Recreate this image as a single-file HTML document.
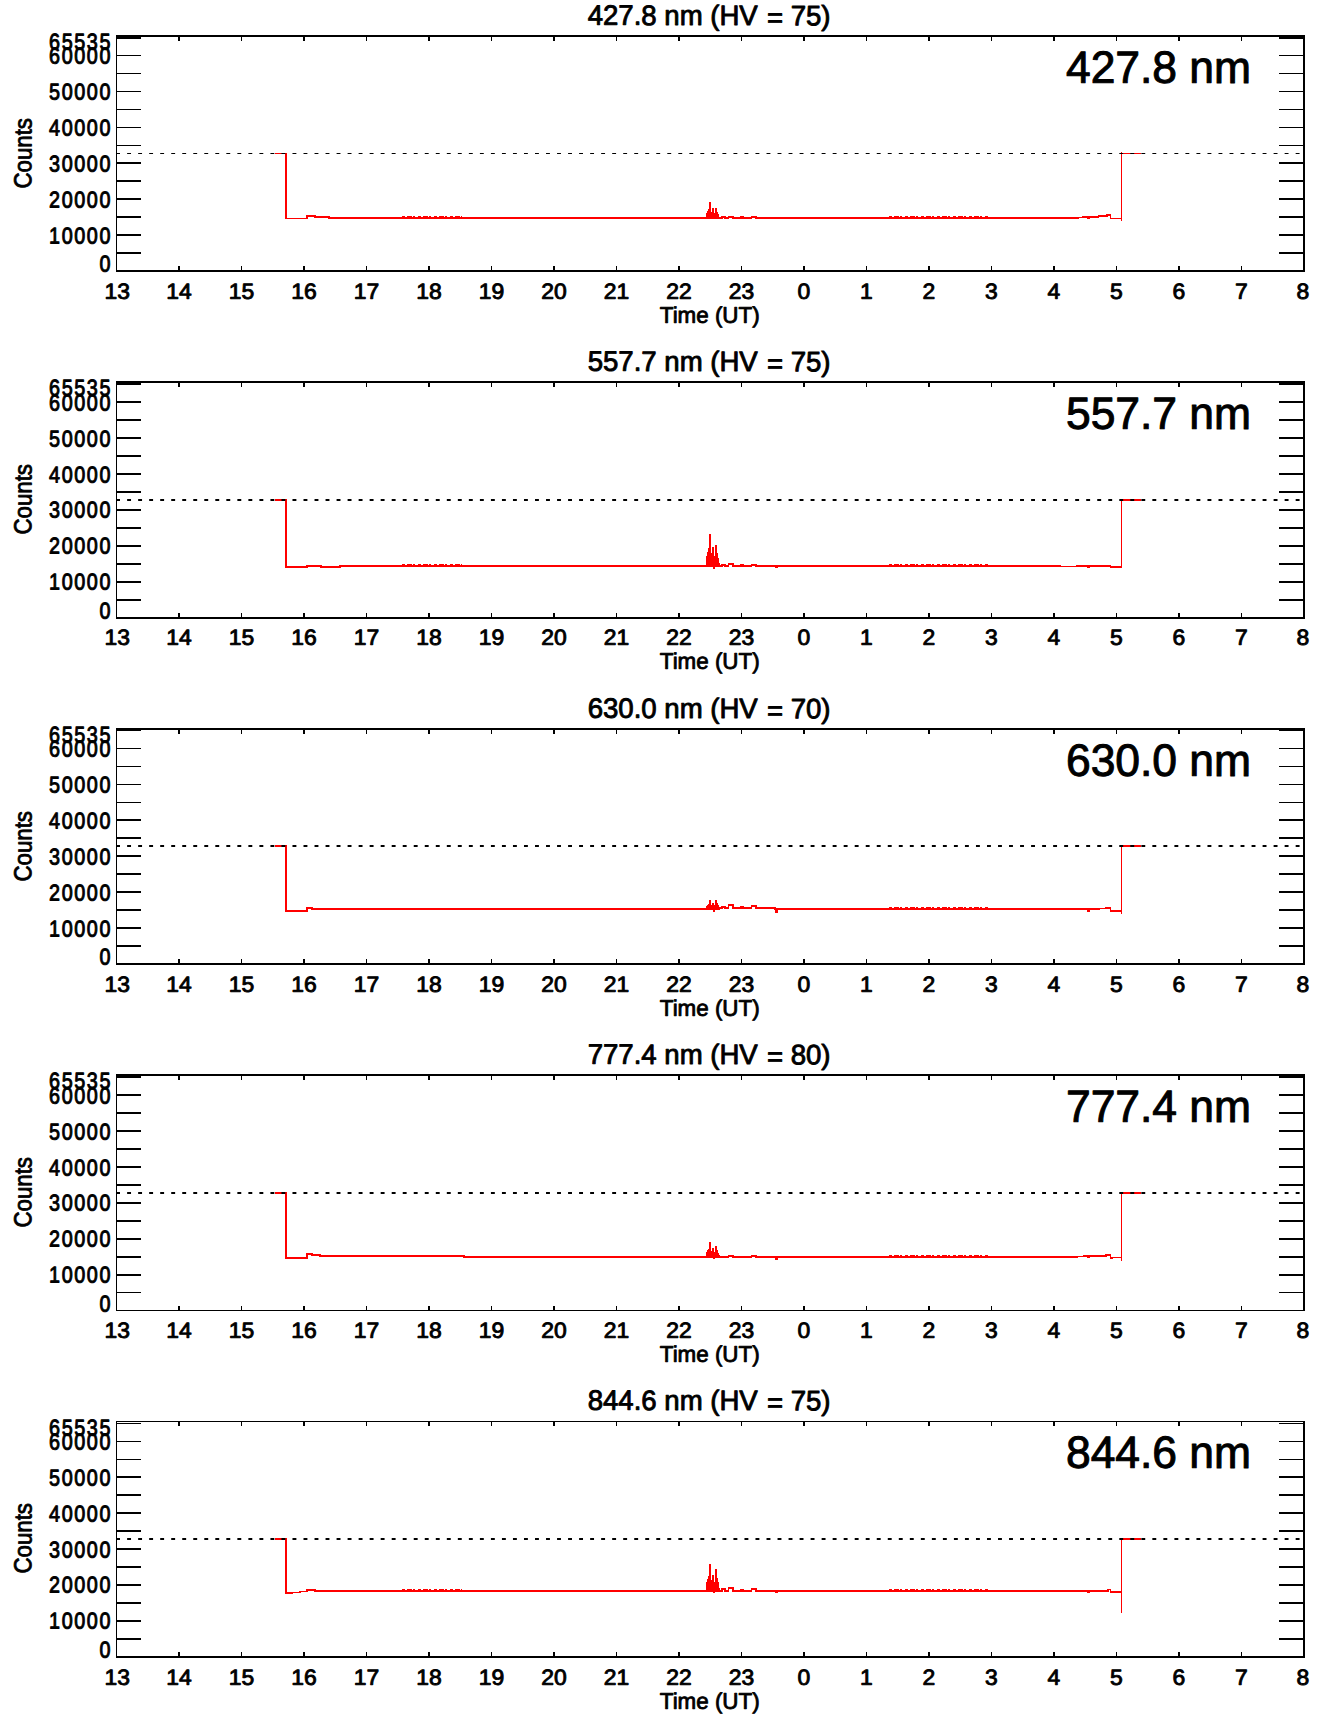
<!DOCTYPE html>
<html lang="en">
<head>
<meta charset="utf-8">
<title>Photometer counts</title>
<style>
html,body{margin:0;padding:0;background:#fff;}
body{width:1336px;height:1731px;overflow:hidden;}
svg{display:block;}
svg text{font-family:"Liberation Sans", Arial, Helvetica, sans-serif;fill:#000;stroke:#000;stroke-linejoin:round;}
</style>
</head>
<body>
<svg width="1336" height="1731" viewBox="0 0 1336 1731">
<rect width="1336" height="1731" fill="#fff"/>
<g>
<g shape-rendering="crispEdges">
<polyline points="275.2,153.5 286,153.5 286,218.5 306.8,218.5 306.8,216 315,216 315,217 329,217 329,218 719.5,218 719.5,218 722,218 722,217 725,217 725,218 728.5,218 728.5,217 733,217 733,218 741,218 741,217 743,217 743,218 751.5,218 751.5,217 756,217 756,218 775,218 775,218 1078,218 1078,217.5 1083,217.5 1083,217 1088,217 1088,218 1089.5,218 1089.5,217 1098.5,217 1098.5,216 1107,216 1107,215 1110.5,215 1110.5,218.5 1121.5,218.5 1121.5,220.8 1121.5,152 1121.5,153.5 1141.3,153.5" fill="none" stroke="#ff0000" stroke-width="1.5" stroke-linejoin="miter"/>
<polygon points="706.0,218.8 706.0,212.7 707.0,212.7 707.0,210.8 708.0,210.8 708.0,209.0 709.0,209.0 709.0,202.0 711.0,202.0 711.0,211.6 712.0,211.6 712.0,208.3 714.0,208.3 714.0,212.7 715.0,212.7 715.0,208.3 717.0,208.3 717.0,212.0 718.0,212.0 718.0,214.1 719.0,214.1 719.0,216.5 720.0,216.5 720.0,218.8" fill="#ff0000"/>
<rect x="713" y="218" width="2" height="1" fill="#ff0000"/>
<line x1="402" y1="216.5" x2="462" y2="216.5" stroke="#ff0000" stroke-width="1" stroke-dasharray="3 2 5 1 2 3"/>
<line x1="889" y1="216.5" x2="989" y2="216.5" stroke="#ff0000" stroke-width="1" stroke-dasharray="3 2 5 1 2 3"/>
</g>
<line x1="116.1" y1="153.5" x2="1304" y2="153.5" stroke="#000" stroke-width="1" stroke-dasharray="3.9 7.124"/>
<rect x="116" y="35" width="1189" height="2" fill="#000"/>
<rect x="116" y="270" width="1189" height="2" fill="#000"/>
<rect x="116" y="35" width="1" height="237" fill="#000"/>
<rect x="1303" y="35" width="2" height="237" fill="#000"/>
<rect x="117" y="55" width="24" height="1" fill="#000"/>
<rect x="1279" y="55" width="25" height="1" fill="#000"/>
<rect x="117" y="73" width="24" height="1" fill="#000"/>
<rect x="1279" y="73" width="25" height="1" fill="#000"/>
<rect x="117" y="91" width="24" height="1" fill="#000"/>
<rect x="1279" y="91" width="25" height="1" fill="#000"/>
<rect x="117" y="109" width="24" height="1" fill="#000"/>
<rect x="1279" y="109" width="25" height="1" fill="#000"/>
<rect x="117" y="127" width="24" height="1" fill="#000"/>
<rect x="1279" y="127" width="25" height="1" fill="#000"/>
<rect x="117" y="145" width="24" height="1" fill="#000"/>
<rect x="1279" y="145" width="25" height="1" fill="#000"/>
<rect x="117" y="162" width="24" height="2" fill="#000"/>
<rect x="1279" y="162" width="25" height="2" fill="#000"/>
<rect x="117" y="180" width="24" height="2" fill="#000"/>
<rect x="1279" y="180" width="25" height="2" fill="#000"/>
<rect x="117" y="198" width="24" height="2" fill="#000"/>
<rect x="1279" y="198" width="25" height="2" fill="#000"/>
<rect x="117" y="216" width="24" height="2" fill="#000"/>
<rect x="1279" y="216" width="25" height="2" fill="#000"/>
<rect x="117" y="234" width="24" height="2" fill="#000"/>
<rect x="1279" y="234" width="25" height="2" fill="#000"/>
<rect x="117" y="252" width="24" height="2" fill="#000"/>
<rect x="1279" y="252" width="25" height="2" fill="#000"/>
<rect x="117" y="35" width="24" height="4" fill="#000"/>
<rect x="1279" y="35" width="25" height="4" fill="#000"/>
<rect x="178" y="35" width="2" height="6" fill="#000"/>
<rect x="178" y="266" width="2" height="4" fill="#000"/>
<rect x="241" y="35" width="1" height="6" fill="#000"/>
<rect x="241" y="266" width="1" height="4" fill="#000"/>
<rect x="303" y="35" width="2" height="6" fill="#000"/>
<rect x="303" y="266" width="2" height="4" fill="#000"/>
<rect x="366" y="35" width="1" height="6" fill="#000"/>
<rect x="366" y="266" width="1" height="4" fill="#000"/>
<rect x="428" y="35" width="2" height="6" fill="#000"/>
<rect x="428" y="266" width="2" height="4" fill="#000"/>
<rect x="491" y="35" width="1" height="6" fill="#000"/>
<rect x="491" y="266" width="1" height="4" fill="#000"/>
<rect x="553" y="35" width="2" height="6" fill="#000"/>
<rect x="553" y="266" width="2" height="4" fill="#000"/>
<rect x="616" y="35" width="1" height="6" fill="#000"/>
<rect x="616" y="266" width="1" height="4" fill="#000"/>
<rect x="678" y="35" width="2" height="6" fill="#000"/>
<rect x="678" y="266" width="2" height="4" fill="#000"/>
<rect x="741" y="35" width="1" height="6" fill="#000"/>
<rect x="741" y="266" width="1" height="4" fill="#000"/>
<rect x="803" y="35" width="2" height="6" fill="#000"/>
<rect x="803" y="266" width="2" height="4" fill="#000"/>
<rect x="866" y="35" width="1" height="6" fill="#000"/>
<rect x="866" y="266" width="1" height="4" fill="#000"/>
<rect x="928" y="35" width="2" height="6" fill="#000"/>
<rect x="928" y="266" width="2" height="4" fill="#000"/>
<rect x="991" y="35" width="1" height="6" fill="#000"/>
<rect x="991" y="266" width="1" height="4" fill="#000"/>
<rect x="1053" y="35" width="2" height="6" fill="#000"/>
<rect x="1053" y="266" width="2" height="4" fill="#000"/>
<rect x="1116" y="35" width="1" height="6" fill="#000"/>
<rect x="1116" y="266" width="1" height="4" fill="#000"/>
<rect x="1178" y="35" width="2" height="6" fill="#000"/>
<rect x="1178" y="266" width="2" height="4" fill="#000"/>
<rect x="1241" y="35" width="1" height="6" fill="#000"/>
<rect x="1241" y="266" width="1" height="4" fill="#000"/>
<text transform="translate(112.00 49.50) rotate(0.1) scale(0.8620 1.0000)" font-size="22.9" text-anchor="end" stroke-width="0.95" letter-spacing="1.87">65535</text>
<text transform="translate(112.00 63.50) rotate(0.1) scale(0.8620 1.0000)" font-size="22.9" text-anchor="end" stroke-width="0.95" letter-spacing="1.87">60000</text>
<text transform="translate(112.00 99.50) rotate(0.1) scale(0.8620 1.0000)" font-size="22.9" text-anchor="end" stroke-width="0.95" letter-spacing="1.87">50000</text>
<text transform="translate(112.00 135.50) rotate(0.1) scale(0.8620 1.0000)" font-size="22.9" text-anchor="end" stroke-width="0.95" letter-spacing="1.87">40000</text>
<text transform="translate(112.00 171.50) rotate(0.1) scale(0.8620 1.0000)" font-size="22.9" text-anchor="end" stroke-width="0.95" letter-spacing="1.87">30000</text>
<text transform="translate(112.00 207.50) rotate(0.1) scale(0.8620 1.0000)" font-size="22.9" text-anchor="end" stroke-width="0.95" letter-spacing="1.87">20000</text>
<text transform="translate(112.00 243.50) rotate(0.1) scale(0.8620 1.0000)" font-size="22.9" text-anchor="end" stroke-width="0.95" letter-spacing="1.87">10000</text>
<text transform="translate(112.00 271.50) rotate(0.1) scale(0.8620 1.0000)" font-size="22.9" text-anchor="end" stroke-width="0.95" letter-spacing="1.87">0</text>
<text transform="translate(117.20 298.85) rotate(0.1) scale(1.0450 1.0000)" font-size="21.9" text-anchor="middle" stroke-width="0.9">13</text>
<text transform="translate(178.90 298.85) rotate(0.1) scale(1.0450 1.0000)" font-size="21.9" text-anchor="middle" stroke-width="0.9">14</text>
<text transform="translate(241.40 298.85) rotate(0.1) scale(1.0450 1.0000)" font-size="21.9" text-anchor="middle" stroke-width="0.9">15</text>
<text transform="translate(303.90 298.85) rotate(0.1) scale(1.0450 1.0000)" font-size="21.9" text-anchor="middle" stroke-width="0.9">16</text>
<text transform="translate(366.40 298.85) rotate(0.1) scale(1.0450 1.0000)" font-size="21.9" text-anchor="middle" stroke-width="0.9">17</text>
<text transform="translate(428.90 298.85) rotate(0.1) scale(1.0450 1.0000)" font-size="21.9" text-anchor="middle" stroke-width="0.9">18</text>
<text transform="translate(491.40 298.85) rotate(0.1) scale(1.0450 1.0000)" font-size="21.9" text-anchor="middle" stroke-width="0.9">19</text>
<text transform="translate(553.90 298.85) rotate(0.1) scale(1.0450 1.0000)" font-size="21.9" text-anchor="middle" stroke-width="0.9">20</text>
<text transform="translate(616.40 298.85) rotate(0.1) scale(1.0450 1.0000)" font-size="21.9" text-anchor="middle" stroke-width="0.9">21</text>
<text transform="translate(678.90 298.85) rotate(0.1) scale(1.0450 1.0000)" font-size="21.9" text-anchor="middle" stroke-width="0.9">22</text>
<text transform="translate(741.40 298.85) rotate(0.1) scale(1.0450 1.0000)" font-size="21.9" text-anchor="middle" stroke-width="0.9">23</text>
<text transform="translate(803.90 298.85) rotate(0.1) scale(1.0450 1.0000)" font-size="21.9" text-anchor="middle" stroke-width="0.9">0</text>
<text transform="translate(866.40 298.85) rotate(0.1) scale(1.0450 1.0000)" font-size="21.9" text-anchor="middle" stroke-width="0.9">1</text>
<text transform="translate(928.90 298.85) rotate(0.1) scale(1.0450 1.0000)" font-size="21.9" text-anchor="middle" stroke-width="0.9">2</text>
<text transform="translate(991.40 298.85) rotate(0.1) scale(1.0450 1.0000)" font-size="21.9" text-anchor="middle" stroke-width="0.9">3</text>
<text transform="translate(1053.90 298.85) rotate(0.1) scale(1.0450 1.0000)" font-size="21.9" text-anchor="middle" stroke-width="0.9">4</text>
<text transform="translate(1116.40 298.85) rotate(0.1) scale(1.0450 1.0000)" font-size="21.9" text-anchor="middle" stroke-width="0.9">5</text>
<text transform="translate(1178.90 298.85) rotate(0.1) scale(1.0450 1.0000)" font-size="21.9" text-anchor="middle" stroke-width="0.9">6</text>
<text transform="translate(1241.40 298.85) rotate(0.1) scale(1.0450 1.0000)" font-size="21.9" text-anchor="middle" stroke-width="0.9">7</text>
<text transform="translate(1302.80 298.85) rotate(0.1) scale(1.0450 1.0000)" font-size="21.9" text-anchor="middle" stroke-width="0.9">8</text>
<text transform="translate(709.10 25.00) rotate(0.1) scale(0.9850 1.0000)" font-size="28.0" text-anchor="middle" stroke-width="0.9">427.8 nm (HV <tspan dx="1.5" dy="2.2">=</tspan><tspan dy="-2.2"> </tspan>75)</text>
<text transform="translate(709.70 322.75) rotate(0.1) scale(0.9900 1.0000)" font-size="22.6" text-anchor="middle" stroke-width="0.85">Time (UT)</text>
<text transform="translate(31.40 153.30) rotate(-89.9) scale(0.9050 1.0000)" font-size="24.6" text-anchor="middle" stroke-width="0.85">Counts</text>
<text transform="translate(1158.50 82.80) rotate(0.1) scale(0.9860 1.0000)" font-size="45.0" text-anchor="middle" stroke-width="1.0">427.8 nm</text>
</g>
<g>
<g shape-rendering="crispEdges">
<polyline points="275.2,500 286,500 286,567 306.8,567 306.8,566 321,566 321,567 340,567 340,566 719.5,566 719.5,566 722,566 722,565 725,565 725,566 728.5,566 728.5,564 733,564 733,566 741,566 741,565 743,565 743,566 751.5,566 751.5,565 756,565 756,566 775,566 775,566 775.5,566 775.5,567.5 777,567.5 777,566 1060,566 1060,566.5 1077,566.5 1077,566 1088,566 1088,567.5 1089.5,567.5 1089.5,566 1110.5,566 1110.5,567 1121.5,567 1121.5,567.7 1121.5,498.5 1121.5,500 1141.3,500" fill="none" stroke="#ff0000" stroke-width="1.5" stroke-linejoin="miter"/>
<polygon points="706.0,566.8 706.0,555.5 707.0,555.5 707.0,551.6 708.0,551.6 708.0,548.1 709.0,548.1 709.0,534.1 711.0,534.1 711.0,553.2 712.0,553.2 712.0,547.3 714.0,547.3 714.0,555.7 715.0,555.7 715.0,545.3 717.0,545.3 717.0,553.2 718.0,553.2 718.0,557.7 719.0,557.7 719.0,562.9 720.0,562.9 720.0,566.8" fill="#ff0000"/>
<rect x="713" y="566" width="2" height="2.5" fill="#ff0000"/>
<line x1="402" y1="564.5" x2="462" y2="564.5" stroke="#ff0000" stroke-width="1" stroke-dasharray="3 2 5 1 2 3"/>
<line x1="889" y1="564.5" x2="989" y2="564.5" stroke="#ff0000" stroke-width="1" stroke-dasharray="3 2 5 1 2 3"/>
</g>
<line x1="116.1" y1="500" x2="1304" y2="500" stroke="#000" stroke-width="2" stroke-dasharray="3.9 7.124"/>
<rect x="116" y="381" width="1189" height="2" fill="#000"/>
<rect x="116" y="617" width="1189" height="2" fill="#000"/>
<rect x="116" y="381" width="1" height="238" fill="#000"/>
<rect x="1303" y="381" width="2" height="238" fill="#000"/>
<rect x="117" y="401" width="24" height="2" fill="#000"/>
<rect x="1279" y="401" width="25" height="2" fill="#000"/>
<rect x="117" y="419" width="24" height="2" fill="#000"/>
<rect x="1279" y="419" width="25" height="2" fill="#000"/>
<rect x="117" y="437" width="24" height="2" fill="#000"/>
<rect x="1279" y="437" width="25" height="2" fill="#000"/>
<rect x="117" y="455" width="24" height="2" fill="#000"/>
<rect x="1279" y="455" width="25" height="2" fill="#000"/>
<rect x="117" y="473" width="24" height="2" fill="#000"/>
<rect x="1279" y="473" width="25" height="2" fill="#000"/>
<rect x="117" y="491" width="24" height="2" fill="#000"/>
<rect x="1279" y="491" width="25" height="2" fill="#000"/>
<rect x="117" y="509" width="24" height="2" fill="#000"/>
<rect x="1279" y="509" width="25" height="2" fill="#000"/>
<rect x="117" y="527" width="24" height="2" fill="#000"/>
<rect x="1279" y="527" width="25" height="2" fill="#000"/>
<rect x="117" y="545" width="24" height="2" fill="#000"/>
<rect x="1279" y="545" width="25" height="2" fill="#000"/>
<rect x="117" y="563" width="24" height="2" fill="#000"/>
<rect x="1279" y="563" width="25" height="2" fill="#000"/>
<rect x="117" y="581" width="24" height="2" fill="#000"/>
<rect x="1279" y="581" width="25" height="2" fill="#000"/>
<rect x="117" y="599" width="24" height="2" fill="#000"/>
<rect x="1279" y="599" width="25" height="2" fill="#000"/>
<rect x="117" y="381" width="24" height="4" fill="#000"/>
<rect x="1279" y="381" width="25" height="4" fill="#000"/>
<rect x="178" y="381" width="2" height="6" fill="#000"/>
<rect x="178" y="613" width="2" height="4" fill="#000"/>
<rect x="241" y="381" width="1" height="6" fill="#000"/>
<rect x="241" y="613" width="1" height="4" fill="#000"/>
<rect x="303" y="381" width="2" height="6" fill="#000"/>
<rect x="303" y="613" width="2" height="4" fill="#000"/>
<rect x="366" y="381" width="1" height="6" fill="#000"/>
<rect x="366" y="613" width="1" height="4" fill="#000"/>
<rect x="428" y="381" width="2" height="6" fill="#000"/>
<rect x="428" y="613" width="2" height="4" fill="#000"/>
<rect x="491" y="381" width="1" height="6" fill="#000"/>
<rect x="491" y="613" width="1" height="4" fill="#000"/>
<rect x="553" y="381" width="2" height="6" fill="#000"/>
<rect x="553" y="613" width="2" height="4" fill="#000"/>
<rect x="616" y="381" width="1" height="6" fill="#000"/>
<rect x="616" y="613" width="1" height="4" fill="#000"/>
<rect x="678" y="381" width="2" height="6" fill="#000"/>
<rect x="678" y="613" width="2" height="4" fill="#000"/>
<rect x="741" y="381" width="1" height="6" fill="#000"/>
<rect x="741" y="613" width="1" height="4" fill="#000"/>
<rect x="803" y="381" width="2" height="6" fill="#000"/>
<rect x="803" y="613" width="2" height="4" fill="#000"/>
<rect x="866" y="381" width="1" height="6" fill="#000"/>
<rect x="866" y="613" width="1" height="4" fill="#000"/>
<rect x="928" y="381" width="2" height="6" fill="#000"/>
<rect x="928" y="613" width="2" height="4" fill="#000"/>
<rect x="991" y="381" width="1" height="6" fill="#000"/>
<rect x="991" y="613" width="1" height="4" fill="#000"/>
<rect x="1053" y="381" width="2" height="6" fill="#000"/>
<rect x="1053" y="613" width="2" height="4" fill="#000"/>
<rect x="1116" y="381" width="1" height="6" fill="#000"/>
<rect x="1116" y="613" width="1" height="4" fill="#000"/>
<rect x="1178" y="381" width="2" height="6" fill="#000"/>
<rect x="1178" y="613" width="2" height="4" fill="#000"/>
<rect x="1241" y="381" width="1" height="6" fill="#000"/>
<rect x="1241" y="613" width="1" height="4" fill="#000"/>
<text transform="translate(112.00 395.50) rotate(0.1) scale(0.8620 1.0000)" font-size="22.9" text-anchor="end" stroke-width="0.95" letter-spacing="1.87">65535</text>
<text transform="translate(112.00 410.50) rotate(0.1) scale(0.8620 1.0000)" font-size="22.9" text-anchor="end" stroke-width="0.95" letter-spacing="1.87">60000</text>
<text transform="translate(112.00 446.50) rotate(0.1) scale(0.8620 1.0000)" font-size="22.9" text-anchor="end" stroke-width="0.95" letter-spacing="1.87">50000</text>
<text transform="translate(112.00 482.50) rotate(0.1) scale(0.8620 1.0000)" font-size="22.9" text-anchor="end" stroke-width="0.95" letter-spacing="1.87">40000</text>
<text transform="translate(112.00 517.50) rotate(0.1) scale(0.8620 1.0000)" font-size="22.9" text-anchor="end" stroke-width="0.95" letter-spacing="1.87">30000</text>
<text transform="translate(112.00 553.50) rotate(0.1) scale(0.8620 1.0000)" font-size="22.9" text-anchor="end" stroke-width="0.95" letter-spacing="1.87">20000</text>
<text transform="translate(112.00 589.50) rotate(0.1) scale(0.8620 1.0000)" font-size="22.9" text-anchor="end" stroke-width="0.95" letter-spacing="1.87">10000</text>
<text transform="translate(112.00 618.50) rotate(0.1) scale(0.8620 1.0000)" font-size="22.9" text-anchor="end" stroke-width="0.95" letter-spacing="1.87">0</text>
<text transform="translate(117.20 644.85) rotate(0.1) scale(1.0450 1.0000)" font-size="21.9" text-anchor="middle" stroke-width="0.9">13</text>
<text transform="translate(178.90 644.85) rotate(0.1) scale(1.0450 1.0000)" font-size="21.9" text-anchor="middle" stroke-width="0.9">14</text>
<text transform="translate(241.40 644.85) rotate(0.1) scale(1.0450 1.0000)" font-size="21.9" text-anchor="middle" stroke-width="0.9">15</text>
<text transform="translate(303.90 644.85) rotate(0.1) scale(1.0450 1.0000)" font-size="21.9" text-anchor="middle" stroke-width="0.9">16</text>
<text transform="translate(366.40 644.85) rotate(0.1) scale(1.0450 1.0000)" font-size="21.9" text-anchor="middle" stroke-width="0.9">17</text>
<text transform="translate(428.90 644.85) rotate(0.1) scale(1.0450 1.0000)" font-size="21.9" text-anchor="middle" stroke-width="0.9">18</text>
<text transform="translate(491.40 644.85) rotate(0.1) scale(1.0450 1.0000)" font-size="21.9" text-anchor="middle" stroke-width="0.9">19</text>
<text transform="translate(553.90 644.85) rotate(0.1) scale(1.0450 1.0000)" font-size="21.9" text-anchor="middle" stroke-width="0.9">20</text>
<text transform="translate(616.40 644.85) rotate(0.1) scale(1.0450 1.0000)" font-size="21.9" text-anchor="middle" stroke-width="0.9">21</text>
<text transform="translate(678.90 644.85) rotate(0.1) scale(1.0450 1.0000)" font-size="21.9" text-anchor="middle" stroke-width="0.9">22</text>
<text transform="translate(741.40 644.85) rotate(0.1) scale(1.0450 1.0000)" font-size="21.9" text-anchor="middle" stroke-width="0.9">23</text>
<text transform="translate(803.90 644.85) rotate(0.1) scale(1.0450 1.0000)" font-size="21.9" text-anchor="middle" stroke-width="0.9">0</text>
<text transform="translate(866.40 644.85) rotate(0.1) scale(1.0450 1.0000)" font-size="21.9" text-anchor="middle" stroke-width="0.9">1</text>
<text transform="translate(928.90 644.85) rotate(0.1) scale(1.0450 1.0000)" font-size="21.9" text-anchor="middle" stroke-width="0.9">2</text>
<text transform="translate(991.40 644.85) rotate(0.1) scale(1.0450 1.0000)" font-size="21.9" text-anchor="middle" stroke-width="0.9">3</text>
<text transform="translate(1053.90 644.85) rotate(0.1) scale(1.0450 1.0000)" font-size="21.9" text-anchor="middle" stroke-width="0.9">4</text>
<text transform="translate(1116.40 644.85) rotate(0.1) scale(1.0450 1.0000)" font-size="21.9" text-anchor="middle" stroke-width="0.9">5</text>
<text transform="translate(1178.90 644.85) rotate(0.1) scale(1.0450 1.0000)" font-size="21.9" text-anchor="middle" stroke-width="0.9">6</text>
<text transform="translate(1241.40 644.85) rotate(0.1) scale(1.0450 1.0000)" font-size="21.9" text-anchor="middle" stroke-width="0.9">7</text>
<text transform="translate(1302.80 644.85) rotate(0.1) scale(1.0450 1.0000)" font-size="21.9" text-anchor="middle" stroke-width="0.9">8</text>
<text transform="translate(709.10 371.00) rotate(0.1) scale(0.9850 1.0000)" font-size="28.0" text-anchor="middle" stroke-width="0.9">557.7 nm (HV <tspan dx="1.5" dy="2.2">=</tspan><tspan dy="-2.2"> </tspan>75)</text>
<text transform="translate(709.70 668.75) rotate(0.1) scale(0.9900 1.0000)" font-size="22.6" text-anchor="middle" stroke-width="0.85">Time (UT)</text>
<text transform="translate(31.40 499.30) rotate(-89.9) scale(0.9050 1.0000)" font-size="24.6" text-anchor="middle" stroke-width="0.85">Counts</text>
<text transform="translate(1158.50 428.80) rotate(0.1) scale(0.9860 1.0000)" font-size="45.0" text-anchor="middle" stroke-width="1.0">557.7 nm</text>
</g>
<g>
<g shape-rendering="crispEdges">
<polyline points="275.2,846 286,846 286,911 306.8,911 306.8,908 312,908 312,909 719.5,909 719.5,908 722,908 722,907 725,907 725,908 728.5,908 728.5,905 733,905 733,908 741,908 741,907 743,907 743,908 751.5,908 751.5,906 756,906 756,908 775,908 775,909 775.5,909 775.5,912 777,912 777,909 1088,909 1088,911.5 1089.5,911.5 1089.5,909 1099,909 1099,908.5 1105.3,908.5 1105.3,908 1110.5,908 1110.5,911 1121.5,911 1121.5,913.6 1121.5,844.5 1121.5,846 1141.3,846" fill="none" stroke="#ff0000" stroke-width="1.5" stroke-linejoin="miter"/>
<polygon points="706.0,909.8 706.0,905.9 707.0,905.9 707.0,904.8 708.0,904.8 708.0,903.8 709.0,903.8 709.0,899.7 711.0,899.7 711.0,905.3 712.0,905.3 712.0,902.5 714.0,902.5 714.0,905.4 715.0,905.4 715.0,899.7 717.0,899.7 717.0,903.2 718.0,903.2 718.0,905.3 719.0,905.3 719.0,907.6 720.0,907.6 720.0,909.8" fill="#ff0000"/>
<rect x="713" y="909" width="2" height="3" fill="#ff0000"/>
<line x1="889" y1="907.5" x2="989" y2="907.5" stroke="#ff0000" stroke-width="1" stroke-dasharray="3 2 5 1 2 3"/>
</g>
<line x1="116.1" y1="846" x2="1304" y2="846" stroke="#000" stroke-width="2" stroke-dasharray="3.9 7.124"/>
<rect x="116" y="728" width="1189" height="2" fill="#000"/>
<rect x="116" y="963" width="1189" height="2" fill="#000"/>
<rect x="116" y="728" width="1" height="237" fill="#000"/>
<rect x="1303" y="728" width="2" height="237" fill="#000"/>
<rect x="117" y="748" width="24" height="1" fill="#000"/>
<rect x="1279" y="748" width="25" height="1" fill="#000"/>
<rect x="117" y="766" width="24" height="1" fill="#000"/>
<rect x="1279" y="766" width="25" height="1" fill="#000"/>
<rect x="117" y="784" width="24" height="1" fill="#000"/>
<rect x="1279" y="784" width="25" height="1" fill="#000"/>
<rect x="117" y="802" width="24" height="1" fill="#000"/>
<rect x="1279" y="802" width="25" height="1" fill="#000"/>
<rect x="117" y="819" width="24" height="2" fill="#000"/>
<rect x="1279" y="819" width="25" height="2" fill="#000"/>
<rect x="117" y="837" width="24" height="2" fill="#000"/>
<rect x="1279" y="837" width="25" height="2" fill="#000"/>
<rect x="117" y="855" width="24" height="2" fill="#000"/>
<rect x="1279" y="855" width="25" height="2" fill="#000"/>
<rect x="117" y="873" width="24" height="2" fill="#000"/>
<rect x="1279" y="873" width="25" height="2" fill="#000"/>
<rect x="117" y="891" width="24" height="2" fill="#000"/>
<rect x="1279" y="891" width="25" height="2" fill="#000"/>
<rect x="117" y="909" width="24" height="2" fill="#000"/>
<rect x="1279" y="909" width="25" height="2" fill="#000"/>
<rect x="117" y="927" width="24" height="2" fill="#000"/>
<rect x="1279" y="927" width="25" height="2" fill="#000"/>
<rect x="117" y="945" width="24" height="2" fill="#000"/>
<rect x="1279" y="945" width="25" height="2" fill="#000"/>
<rect x="117" y="728" width="24" height="3" fill="#000"/>
<rect x="1279" y="728" width="25" height="3" fill="#000"/>
<rect x="178" y="728" width="2" height="6" fill="#000"/>
<rect x="178" y="959" width="2" height="4" fill="#000"/>
<rect x="241" y="728" width="1" height="6" fill="#000"/>
<rect x="241" y="959" width="1" height="4" fill="#000"/>
<rect x="303" y="728" width="2" height="6" fill="#000"/>
<rect x="303" y="959" width="2" height="4" fill="#000"/>
<rect x="366" y="728" width="1" height="6" fill="#000"/>
<rect x="366" y="959" width="1" height="4" fill="#000"/>
<rect x="428" y="728" width="2" height="6" fill="#000"/>
<rect x="428" y="959" width="2" height="4" fill="#000"/>
<rect x="491" y="728" width="1" height="6" fill="#000"/>
<rect x="491" y="959" width="1" height="4" fill="#000"/>
<rect x="553" y="728" width="2" height="6" fill="#000"/>
<rect x="553" y="959" width="2" height="4" fill="#000"/>
<rect x="616" y="728" width="1" height="6" fill="#000"/>
<rect x="616" y="959" width="1" height="4" fill="#000"/>
<rect x="678" y="728" width="2" height="6" fill="#000"/>
<rect x="678" y="959" width="2" height="4" fill="#000"/>
<rect x="741" y="728" width="1" height="6" fill="#000"/>
<rect x="741" y="959" width="1" height="4" fill="#000"/>
<rect x="803" y="728" width="2" height="6" fill="#000"/>
<rect x="803" y="959" width="2" height="4" fill="#000"/>
<rect x="866" y="728" width="1" height="6" fill="#000"/>
<rect x="866" y="959" width="1" height="4" fill="#000"/>
<rect x="928" y="728" width="2" height="6" fill="#000"/>
<rect x="928" y="959" width="2" height="4" fill="#000"/>
<rect x="991" y="728" width="1" height="6" fill="#000"/>
<rect x="991" y="959" width="1" height="4" fill="#000"/>
<rect x="1053" y="728" width="2" height="6" fill="#000"/>
<rect x="1053" y="959" width="2" height="4" fill="#000"/>
<rect x="1116" y="728" width="1" height="6" fill="#000"/>
<rect x="1116" y="959" width="1" height="4" fill="#000"/>
<rect x="1178" y="728" width="2" height="6" fill="#000"/>
<rect x="1178" y="959" width="2" height="4" fill="#000"/>
<rect x="1241" y="728" width="1" height="6" fill="#000"/>
<rect x="1241" y="959" width="1" height="4" fill="#000"/>
<text transform="translate(112.00 742.50) rotate(0.1) scale(0.8620 1.0000)" font-size="22.9" text-anchor="end" stroke-width="0.95" letter-spacing="1.87">65535</text>
<text transform="translate(112.00 756.50) rotate(0.1) scale(0.8620 1.0000)" font-size="22.9" text-anchor="end" stroke-width="0.95" letter-spacing="1.87">60000</text>
<text transform="translate(112.00 792.50) rotate(0.1) scale(0.8620 1.0000)" font-size="22.9" text-anchor="end" stroke-width="0.95" letter-spacing="1.87">50000</text>
<text transform="translate(112.00 828.50) rotate(0.1) scale(0.8620 1.0000)" font-size="22.9" text-anchor="end" stroke-width="0.95" letter-spacing="1.87">40000</text>
<text transform="translate(112.00 864.50) rotate(0.1) scale(0.8620 1.0000)" font-size="22.9" text-anchor="end" stroke-width="0.95" letter-spacing="1.87">30000</text>
<text transform="translate(112.00 900.50) rotate(0.1) scale(0.8620 1.0000)" font-size="22.9" text-anchor="end" stroke-width="0.95" letter-spacing="1.87">20000</text>
<text transform="translate(112.00 936.50) rotate(0.1) scale(0.8620 1.0000)" font-size="22.9" text-anchor="end" stroke-width="0.95" letter-spacing="1.87">10000</text>
<text transform="translate(112.00 964.50) rotate(0.1) scale(0.8620 1.0000)" font-size="22.9" text-anchor="end" stroke-width="0.95" letter-spacing="1.87">0</text>
<text transform="translate(117.20 991.85) rotate(0.1) scale(1.0450 1.0000)" font-size="21.9" text-anchor="middle" stroke-width="0.9">13</text>
<text transform="translate(178.90 991.85) rotate(0.1) scale(1.0450 1.0000)" font-size="21.9" text-anchor="middle" stroke-width="0.9">14</text>
<text transform="translate(241.40 991.85) rotate(0.1) scale(1.0450 1.0000)" font-size="21.9" text-anchor="middle" stroke-width="0.9">15</text>
<text transform="translate(303.90 991.85) rotate(0.1) scale(1.0450 1.0000)" font-size="21.9" text-anchor="middle" stroke-width="0.9">16</text>
<text transform="translate(366.40 991.85) rotate(0.1) scale(1.0450 1.0000)" font-size="21.9" text-anchor="middle" stroke-width="0.9">17</text>
<text transform="translate(428.90 991.85) rotate(0.1) scale(1.0450 1.0000)" font-size="21.9" text-anchor="middle" stroke-width="0.9">18</text>
<text transform="translate(491.40 991.85) rotate(0.1) scale(1.0450 1.0000)" font-size="21.9" text-anchor="middle" stroke-width="0.9">19</text>
<text transform="translate(553.90 991.85) rotate(0.1) scale(1.0450 1.0000)" font-size="21.9" text-anchor="middle" stroke-width="0.9">20</text>
<text transform="translate(616.40 991.85) rotate(0.1) scale(1.0450 1.0000)" font-size="21.9" text-anchor="middle" stroke-width="0.9">21</text>
<text transform="translate(678.90 991.85) rotate(0.1) scale(1.0450 1.0000)" font-size="21.9" text-anchor="middle" stroke-width="0.9">22</text>
<text transform="translate(741.40 991.85) rotate(0.1) scale(1.0450 1.0000)" font-size="21.9" text-anchor="middle" stroke-width="0.9">23</text>
<text transform="translate(803.90 991.85) rotate(0.1) scale(1.0450 1.0000)" font-size="21.9" text-anchor="middle" stroke-width="0.9">0</text>
<text transform="translate(866.40 991.85) rotate(0.1) scale(1.0450 1.0000)" font-size="21.9" text-anchor="middle" stroke-width="0.9">1</text>
<text transform="translate(928.90 991.85) rotate(0.1) scale(1.0450 1.0000)" font-size="21.9" text-anchor="middle" stroke-width="0.9">2</text>
<text transform="translate(991.40 991.85) rotate(0.1) scale(1.0450 1.0000)" font-size="21.9" text-anchor="middle" stroke-width="0.9">3</text>
<text transform="translate(1053.90 991.85) rotate(0.1) scale(1.0450 1.0000)" font-size="21.9" text-anchor="middle" stroke-width="0.9">4</text>
<text transform="translate(1116.40 991.85) rotate(0.1) scale(1.0450 1.0000)" font-size="21.9" text-anchor="middle" stroke-width="0.9">5</text>
<text transform="translate(1178.90 991.85) rotate(0.1) scale(1.0450 1.0000)" font-size="21.9" text-anchor="middle" stroke-width="0.9">6</text>
<text transform="translate(1241.40 991.85) rotate(0.1) scale(1.0450 1.0000)" font-size="21.9" text-anchor="middle" stroke-width="0.9">7</text>
<text transform="translate(1302.80 991.85) rotate(0.1) scale(1.0450 1.0000)" font-size="21.9" text-anchor="middle" stroke-width="0.9">8</text>
<text transform="translate(709.10 718.00) rotate(0.1) scale(0.9850 1.0000)" font-size="28.0" text-anchor="middle" stroke-width="0.9">630.0 nm (HV <tspan dx="1.5" dy="2.2">=</tspan><tspan dy="-2.2"> </tspan>70)</text>
<text transform="translate(709.70 1015.75) rotate(0.1) scale(0.9900 1.0000)" font-size="22.6" text-anchor="middle" stroke-width="0.85">Time (UT)</text>
<text transform="translate(31.40 846.30) rotate(-89.9) scale(0.9050 1.0000)" font-size="24.6" text-anchor="middle" stroke-width="0.85">Counts</text>
<text transform="translate(1158.50 775.80) rotate(0.1) scale(0.9860 1.0000)" font-size="45.0" text-anchor="middle" stroke-width="1.0">630.0 nm</text>
</g>
<g>
<g shape-rendering="crispEdges">
<polyline points="275.2,1193 286,1193 286,1258 306.8,1258 306.8,1254 312,1254 312,1255 320,1255 320,1256 464,1256 464,1257 719.5,1257 719.5,1257 728.5,1257 728.5,1256 733,1256 733,1257 751.5,1257 751.5,1256 756,1256 756,1257 775,1257 775,1257 775.5,1257 775.5,1259 777,1259 777,1257 1077,1257 1077,1256.5 1084,1256.5 1084,1256 1088,1256 1088,1257.5 1089.5,1257.5 1089.5,1256 1106,1256 1106,1255 1110.5,1255 1110.5,1258.5 1112,1258.5 1112,1257.5 1121.5,1257.5 1121.5,1260.7 1121.5,1191.5 1121.5,1193 1141.3,1193" fill="none" stroke="#ff0000" stroke-width="1.5" stroke-linejoin="miter"/>
<polygon points="706.0,1257.8 706.0,1252.1 707.0,1252.1 707.0,1250.4 708.0,1250.4 708.0,1248.8 709.0,1248.8 709.0,1242.3 711.0,1242.3 711.0,1251.1 712.0,1251.1 712.0,1247.5 714.0,1247.5 714.0,1251.8 715.0,1251.8 715.0,1246.0 717.0,1246.0 717.0,1250.2 718.0,1250.2 718.0,1252.6 719.0,1252.6 719.0,1255.3 720.0,1255.3 720.0,1257.8" fill="#ff0000"/>
<rect x="713" y="1257" width="2" height="2" fill="#ff0000"/>
<line x1="889" y1="1255.5" x2="989" y2="1255.5" stroke="#ff0000" stroke-width="1" stroke-dasharray="3 2 5 1 2 3"/>
</g>
<line x1="116.1" y1="1193" x2="1304" y2="1193" stroke="#000" stroke-width="2" stroke-dasharray="3.9 7.124"/>
<rect x="116" y="1074" width="1189" height="2" fill="#000"/>
<rect x="116" y="1310" width="1189" height="1" fill="#000"/>
<rect x="116" y="1074" width="1" height="237" fill="#000"/>
<rect x="1303" y="1074" width="2" height="237" fill="#000"/>
<rect x="117" y="1094" width="24" height="2" fill="#000"/>
<rect x="1279" y="1094" width="25" height="2" fill="#000"/>
<rect x="117" y="1112" width="24" height="2" fill="#000"/>
<rect x="1279" y="1112" width="25" height="2" fill="#000"/>
<rect x="117" y="1130" width="24" height="2" fill="#000"/>
<rect x="1279" y="1130" width="25" height="2" fill="#000"/>
<rect x="117" y="1148" width="24" height="2" fill="#000"/>
<rect x="1279" y="1148" width="25" height="2" fill="#000"/>
<rect x="117" y="1166" width="24" height="2" fill="#000"/>
<rect x="1279" y="1166" width="25" height="2" fill="#000"/>
<rect x="117" y="1184" width="24" height="2" fill="#000"/>
<rect x="1279" y="1184" width="25" height="2" fill="#000"/>
<rect x="117" y="1202" width="24" height="2" fill="#000"/>
<rect x="1279" y="1202" width="25" height="2" fill="#000"/>
<rect x="117" y="1220" width="24" height="2" fill="#000"/>
<rect x="1279" y="1220" width="25" height="2" fill="#000"/>
<rect x="117" y="1238" width="24" height="2" fill="#000"/>
<rect x="1279" y="1238" width="25" height="2" fill="#000"/>
<rect x="117" y="1256" width="24" height="2" fill="#000"/>
<rect x="1279" y="1256" width="25" height="2" fill="#000"/>
<rect x="117" y="1274" width="24" height="2" fill="#000"/>
<rect x="1279" y="1274" width="25" height="2" fill="#000"/>
<rect x="117" y="1292" width="24" height="1" fill="#000"/>
<rect x="1279" y="1292" width="25" height="1" fill="#000"/>
<rect x="117" y="1074" width="24" height="4" fill="#000"/>
<rect x="1279" y="1074" width="25" height="4" fill="#000"/>
<rect x="178" y="1074" width="2" height="6" fill="#000"/>
<rect x="178" y="1306" width="2" height="4" fill="#000"/>
<rect x="241" y="1074" width="1" height="6" fill="#000"/>
<rect x="241" y="1306" width="1" height="4" fill="#000"/>
<rect x="303" y="1074" width="2" height="6" fill="#000"/>
<rect x="303" y="1306" width="2" height="4" fill="#000"/>
<rect x="366" y="1074" width="1" height="6" fill="#000"/>
<rect x="366" y="1306" width="1" height="4" fill="#000"/>
<rect x="428" y="1074" width="2" height="6" fill="#000"/>
<rect x="428" y="1306" width="2" height="4" fill="#000"/>
<rect x="491" y="1074" width="1" height="6" fill="#000"/>
<rect x="491" y="1306" width="1" height="4" fill="#000"/>
<rect x="553" y="1074" width="2" height="6" fill="#000"/>
<rect x="553" y="1306" width="2" height="4" fill="#000"/>
<rect x="616" y="1074" width="1" height="6" fill="#000"/>
<rect x="616" y="1306" width="1" height="4" fill="#000"/>
<rect x="678" y="1074" width="2" height="6" fill="#000"/>
<rect x="678" y="1306" width="2" height="4" fill="#000"/>
<rect x="741" y="1074" width="1" height="6" fill="#000"/>
<rect x="741" y="1306" width="1" height="4" fill="#000"/>
<rect x="803" y="1074" width="2" height="6" fill="#000"/>
<rect x="803" y="1306" width="2" height="4" fill="#000"/>
<rect x="866" y="1074" width="1" height="6" fill="#000"/>
<rect x="866" y="1306" width="1" height="4" fill="#000"/>
<rect x="928" y="1074" width="2" height="6" fill="#000"/>
<rect x="928" y="1306" width="2" height="4" fill="#000"/>
<rect x="991" y="1074" width="1" height="6" fill="#000"/>
<rect x="991" y="1306" width="1" height="4" fill="#000"/>
<rect x="1053" y="1074" width="2" height="6" fill="#000"/>
<rect x="1053" y="1306" width="2" height="4" fill="#000"/>
<rect x="1116" y="1074" width="1" height="6" fill="#000"/>
<rect x="1116" y="1306" width="1" height="4" fill="#000"/>
<rect x="1178" y="1074" width="2" height="6" fill="#000"/>
<rect x="1178" y="1306" width="2" height="4" fill="#000"/>
<rect x="1241" y="1074" width="1" height="6" fill="#000"/>
<rect x="1241" y="1306" width="1" height="4" fill="#000"/>
<text transform="translate(112.00 1088.50) rotate(0.1) scale(0.8620 1.0000)" font-size="22.9" text-anchor="end" stroke-width="0.95" letter-spacing="1.87">65535</text>
<text transform="translate(112.00 1103.50) rotate(0.1) scale(0.8620 1.0000)" font-size="22.9" text-anchor="end" stroke-width="0.95" letter-spacing="1.87">60000</text>
<text transform="translate(112.00 1139.50) rotate(0.1) scale(0.8620 1.0000)" font-size="22.9" text-anchor="end" stroke-width="0.95" letter-spacing="1.87">50000</text>
<text transform="translate(112.00 1175.50) rotate(0.1) scale(0.8620 1.0000)" font-size="22.9" text-anchor="end" stroke-width="0.95" letter-spacing="1.87">40000</text>
<text transform="translate(112.00 1210.50) rotate(0.1) scale(0.8620 1.0000)" font-size="22.9" text-anchor="end" stroke-width="0.95" letter-spacing="1.87">30000</text>
<text transform="translate(112.00 1246.50) rotate(0.1) scale(0.8620 1.0000)" font-size="22.9" text-anchor="end" stroke-width="0.95" letter-spacing="1.87">20000</text>
<text transform="translate(112.00 1282.50) rotate(0.1) scale(0.8620 1.0000)" font-size="22.9" text-anchor="end" stroke-width="0.95" letter-spacing="1.87">10000</text>
<text transform="translate(112.00 1311.50) rotate(0.1) scale(0.8620 1.0000)" font-size="22.9" text-anchor="end" stroke-width="0.95" letter-spacing="1.87">0</text>
<text transform="translate(117.20 1337.85) rotate(0.1) scale(1.0450 1.0000)" font-size="21.9" text-anchor="middle" stroke-width="0.9">13</text>
<text transform="translate(178.90 1337.85) rotate(0.1) scale(1.0450 1.0000)" font-size="21.9" text-anchor="middle" stroke-width="0.9">14</text>
<text transform="translate(241.40 1337.85) rotate(0.1) scale(1.0450 1.0000)" font-size="21.9" text-anchor="middle" stroke-width="0.9">15</text>
<text transform="translate(303.90 1337.85) rotate(0.1) scale(1.0450 1.0000)" font-size="21.9" text-anchor="middle" stroke-width="0.9">16</text>
<text transform="translate(366.40 1337.85) rotate(0.1) scale(1.0450 1.0000)" font-size="21.9" text-anchor="middle" stroke-width="0.9">17</text>
<text transform="translate(428.90 1337.85) rotate(0.1) scale(1.0450 1.0000)" font-size="21.9" text-anchor="middle" stroke-width="0.9">18</text>
<text transform="translate(491.40 1337.85) rotate(0.1) scale(1.0450 1.0000)" font-size="21.9" text-anchor="middle" stroke-width="0.9">19</text>
<text transform="translate(553.90 1337.85) rotate(0.1) scale(1.0450 1.0000)" font-size="21.9" text-anchor="middle" stroke-width="0.9">20</text>
<text transform="translate(616.40 1337.85) rotate(0.1) scale(1.0450 1.0000)" font-size="21.9" text-anchor="middle" stroke-width="0.9">21</text>
<text transform="translate(678.90 1337.85) rotate(0.1) scale(1.0450 1.0000)" font-size="21.9" text-anchor="middle" stroke-width="0.9">22</text>
<text transform="translate(741.40 1337.85) rotate(0.1) scale(1.0450 1.0000)" font-size="21.9" text-anchor="middle" stroke-width="0.9">23</text>
<text transform="translate(803.90 1337.85) rotate(0.1) scale(1.0450 1.0000)" font-size="21.9" text-anchor="middle" stroke-width="0.9">0</text>
<text transform="translate(866.40 1337.85) rotate(0.1) scale(1.0450 1.0000)" font-size="21.9" text-anchor="middle" stroke-width="0.9">1</text>
<text transform="translate(928.90 1337.85) rotate(0.1) scale(1.0450 1.0000)" font-size="21.9" text-anchor="middle" stroke-width="0.9">2</text>
<text transform="translate(991.40 1337.85) rotate(0.1) scale(1.0450 1.0000)" font-size="21.9" text-anchor="middle" stroke-width="0.9">3</text>
<text transform="translate(1053.90 1337.85) rotate(0.1) scale(1.0450 1.0000)" font-size="21.9" text-anchor="middle" stroke-width="0.9">4</text>
<text transform="translate(1116.40 1337.85) rotate(0.1) scale(1.0450 1.0000)" font-size="21.9" text-anchor="middle" stroke-width="0.9">5</text>
<text transform="translate(1178.90 1337.85) rotate(0.1) scale(1.0450 1.0000)" font-size="21.9" text-anchor="middle" stroke-width="0.9">6</text>
<text transform="translate(1241.40 1337.85) rotate(0.1) scale(1.0450 1.0000)" font-size="21.9" text-anchor="middle" stroke-width="0.9">7</text>
<text transform="translate(1302.80 1337.85) rotate(0.1) scale(1.0450 1.0000)" font-size="21.9" text-anchor="middle" stroke-width="0.9">8</text>
<text transform="translate(709.10 1064.00) rotate(0.1) scale(0.9850 1.0000)" font-size="28.0" text-anchor="middle" stroke-width="0.9">777.4 nm (HV <tspan dx="1.5" dy="2.2">=</tspan><tspan dy="-2.2"> </tspan>80)</text>
<text transform="translate(709.70 1361.75) rotate(0.1) scale(0.9900 1.0000)" font-size="22.6" text-anchor="middle" stroke-width="0.85">Time (UT)</text>
<text transform="translate(31.40 1192.30) rotate(-89.9) scale(0.9050 1.0000)" font-size="24.6" text-anchor="middle" stroke-width="0.85">Counts</text>
<text transform="translate(1158.50 1121.80) rotate(0.1) scale(0.9860 1.0000)" font-size="45.0" text-anchor="middle" stroke-width="1.0">777.4 nm</text>
</g>
<g>
<g shape-rendering="crispEdges">
<polyline points="275.2,1539 286,1539 286,1593 292,1593 292,1592.5 300,1592.5 300,1591.5 306.8,1591.5 306.8,1590 315,1590 315,1591 719.5,1591 719.5,1591 722,1591 722,1589 725,1589 725,1591 728.5,1591 728.5,1588 733,1588 733,1591 741,1591 741,1590 743,1590 743,1591 751.5,1591 751.5,1589 756,1589 756,1591 775,1591 775,1591 775.5,1591 775.5,1592.5 777,1592.5 777,1591 1088,1591 1088,1592.5 1089.5,1592.5 1089.5,1591 1108,1591 1108,1589.5 1110.5,1589.5 1110.5,1592 1121.5,1592 1121.5,1612.8 1121.5,1537.5 1121.5,1539 1141.3,1539" fill="none" stroke="#ff0000" stroke-width="1.5" stroke-linejoin="miter"/>
<polygon points="706.0,1591.8 706.0,1582.2 707.0,1582.2 707.0,1579.0 708.0,1579.0 708.0,1576.0 709.0,1576.0 709.0,1564.3 711.0,1564.3 711.0,1580.3 712.0,1580.3 712.0,1575.3 714.0,1575.3 714.0,1582.4 715.0,1582.4 715.0,1569.3 717.0,1569.3 717.0,1577.5 718.0,1577.5 718.0,1582.3 719.0,1582.3 719.0,1587.7 720.0,1587.7 720.0,1591.8" fill="#ff0000"/>
<rect x="713" y="1591" width="2" height="2" fill="#ff0000"/>
<line x1="402" y1="1589.5" x2="462" y2="1589.5" stroke="#ff0000" stroke-width="1" stroke-dasharray="3 2 5 1 2 3"/>
<line x1="889" y1="1589.5" x2="989" y2="1589.5" stroke="#ff0000" stroke-width="1" stroke-dasharray="3 2 5 1 2 3"/>
</g>
<line x1="116.1" y1="1539" x2="1304" y2="1539" stroke="#000" stroke-width="2" stroke-dasharray="3.9 7.124"/>
<rect x="116" y="1421" width="1189" height="1" fill="#000"/>
<rect x="116" y="1656" width="1189" height="2" fill="#000"/>
<rect x="116" y="1421" width="1" height="237" fill="#000"/>
<rect x="1303" y="1421" width="2" height="237" fill="#000"/>
<rect x="117" y="1441" width="24" height="1" fill="#000"/>
<rect x="1279" y="1441" width="25" height="1" fill="#000"/>
<rect x="117" y="1459" width="24" height="1" fill="#000"/>
<rect x="1279" y="1459" width="25" height="1" fill="#000"/>
<rect x="117" y="1476" width="24" height="2" fill="#000"/>
<rect x="1279" y="1476" width="25" height="2" fill="#000"/>
<rect x="117" y="1494" width="24" height="2" fill="#000"/>
<rect x="1279" y="1494" width="25" height="2" fill="#000"/>
<rect x="117" y="1512" width="24" height="2" fill="#000"/>
<rect x="1279" y="1512" width="25" height="2" fill="#000"/>
<rect x="117" y="1530" width="24" height="2" fill="#000"/>
<rect x="1279" y="1530" width="25" height="2" fill="#000"/>
<rect x="117" y="1548" width="24" height="2" fill="#000"/>
<rect x="1279" y="1548" width="25" height="2" fill="#000"/>
<rect x="117" y="1566" width="24" height="2" fill="#000"/>
<rect x="1279" y="1566" width="25" height="2" fill="#000"/>
<rect x="117" y="1584" width="24" height="2" fill="#000"/>
<rect x="1279" y="1584" width="25" height="2" fill="#000"/>
<rect x="117" y="1602" width="24" height="2" fill="#000"/>
<rect x="1279" y="1602" width="25" height="2" fill="#000"/>
<rect x="117" y="1620" width="24" height="2" fill="#000"/>
<rect x="1279" y="1620" width="25" height="2" fill="#000"/>
<rect x="117" y="1638" width="24" height="2" fill="#000"/>
<rect x="1279" y="1638" width="25" height="2" fill="#000"/>
<rect x="117" y="1423" width="24" height="1" fill="#000"/>
<rect x="1279" y="1423" width="25" height="1" fill="#000"/>
<rect x="178" y="1421" width="2" height="5" fill="#000"/>
<rect x="178" y="1652" width="2" height="4" fill="#000"/>
<rect x="241" y="1421" width="1" height="5" fill="#000"/>
<rect x="241" y="1652" width="1" height="4" fill="#000"/>
<rect x="303" y="1421" width="2" height="5" fill="#000"/>
<rect x="303" y="1652" width="2" height="4" fill="#000"/>
<rect x="366" y="1421" width="1" height="5" fill="#000"/>
<rect x="366" y="1652" width="1" height="4" fill="#000"/>
<rect x="428" y="1421" width="2" height="5" fill="#000"/>
<rect x="428" y="1652" width="2" height="4" fill="#000"/>
<rect x="491" y="1421" width="1" height="5" fill="#000"/>
<rect x="491" y="1652" width="1" height="4" fill="#000"/>
<rect x="553" y="1421" width="2" height="5" fill="#000"/>
<rect x="553" y="1652" width="2" height="4" fill="#000"/>
<rect x="616" y="1421" width="1" height="5" fill="#000"/>
<rect x="616" y="1652" width="1" height="4" fill="#000"/>
<rect x="678" y="1421" width="2" height="5" fill="#000"/>
<rect x="678" y="1652" width="2" height="4" fill="#000"/>
<rect x="741" y="1421" width="1" height="5" fill="#000"/>
<rect x="741" y="1652" width="1" height="4" fill="#000"/>
<rect x="803" y="1421" width="2" height="5" fill="#000"/>
<rect x="803" y="1652" width="2" height="4" fill="#000"/>
<rect x="866" y="1421" width="1" height="5" fill="#000"/>
<rect x="866" y="1652" width="1" height="4" fill="#000"/>
<rect x="928" y="1421" width="2" height="5" fill="#000"/>
<rect x="928" y="1652" width="2" height="4" fill="#000"/>
<rect x="991" y="1421" width="1" height="5" fill="#000"/>
<rect x="991" y="1652" width="1" height="4" fill="#000"/>
<rect x="1053" y="1421" width="2" height="5" fill="#000"/>
<rect x="1053" y="1652" width="2" height="4" fill="#000"/>
<rect x="1116" y="1421" width="1" height="5" fill="#000"/>
<rect x="1116" y="1652" width="1" height="4" fill="#000"/>
<rect x="1178" y="1421" width="2" height="5" fill="#000"/>
<rect x="1178" y="1652" width="2" height="4" fill="#000"/>
<rect x="1241" y="1421" width="1" height="5" fill="#000"/>
<rect x="1241" y="1652" width="1" height="4" fill="#000"/>
<text transform="translate(112.00 1435.50) rotate(0.1) scale(0.8620 1.0000)" font-size="22.9" text-anchor="end" stroke-width="0.95" letter-spacing="1.87">65535</text>
<text transform="translate(112.00 1449.50) rotate(0.1) scale(0.8620 1.0000)" font-size="22.9" text-anchor="end" stroke-width="0.95" letter-spacing="1.87">60000</text>
<text transform="translate(112.00 1485.50) rotate(0.1) scale(0.8620 1.0000)" font-size="22.9" text-anchor="end" stroke-width="0.95" letter-spacing="1.87">50000</text>
<text transform="translate(112.00 1521.50) rotate(0.1) scale(0.8620 1.0000)" font-size="22.9" text-anchor="end" stroke-width="0.95" letter-spacing="1.87">40000</text>
<text transform="translate(112.00 1557.50) rotate(0.1) scale(0.8620 1.0000)" font-size="22.9" text-anchor="end" stroke-width="0.95" letter-spacing="1.87">30000</text>
<text transform="translate(112.00 1592.50) rotate(0.1) scale(0.8620 1.0000)" font-size="22.9" text-anchor="end" stroke-width="0.95" letter-spacing="1.87">20000</text>
<text transform="translate(112.00 1628.50) rotate(0.1) scale(0.8620 1.0000)" font-size="22.9" text-anchor="end" stroke-width="0.95" letter-spacing="1.87">10000</text>
<text transform="translate(112.00 1657.50) rotate(0.1) scale(0.8620 1.0000)" font-size="22.9" text-anchor="end" stroke-width="0.95" letter-spacing="1.87">0</text>
<text transform="translate(117.20 1684.85) rotate(0.1) scale(1.0450 1.0000)" font-size="21.9" text-anchor="middle" stroke-width="0.9">13</text>
<text transform="translate(178.90 1684.85) rotate(0.1) scale(1.0450 1.0000)" font-size="21.9" text-anchor="middle" stroke-width="0.9">14</text>
<text transform="translate(241.40 1684.85) rotate(0.1) scale(1.0450 1.0000)" font-size="21.9" text-anchor="middle" stroke-width="0.9">15</text>
<text transform="translate(303.90 1684.85) rotate(0.1) scale(1.0450 1.0000)" font-size="21.9" text-anchor="middle" stroke-width="0.9">16</text>
<text transform="translate(366.40 1684.85) rotate(0.1) scale(1.0450 1.0000)" font-size="21.9" text-anchor="middle" stroke-width="0.9">17</text>
<text transform="translate(428.90 1684.85) rotate(0.1) scale(1.0450 1.0000)" font-size="21.9" text-anchor="middle" stroke-width="0.9">18</text>
<text transform="translate(491.40 1684.85) rotate(0.1) scale(1.0450 1.0000)" font-size="21.9" text-anchor="middle" stroke-width="0.9">19</text>
<text transform="translate(553.90 1684.85) rotate(0.1) scale(1.0450 1.0000)" font-size="21.9" text-anchor="middle" stroke-width="0.9">20</text>
<text transform="translate(616.40 1684.85) rotate(0.1) scale(1.0450 1.0000)" font-size="21.9" text-anchor="middle" stroke-width="0.9">21</text>
<text transform="translate(678.90 1684.85) rotate(0.1) scale(1.0450 1.0000)" font-size="21.9" text-anchor="middle" stroke-width="0.9">22</text>
<text transform="translate(741.40 1684.85) rotate(0.1) scale(1.0450 1.0000)" font-size="21.9" text-anchor="middle" stroke-width="0.9">23</text>
<text transform="translate(803.90 1684.85) rotate(0.1) scale(1.0450 1.0000)" font-size="21.9" text-anchor="middle" stroke-width="0.9">0</text>
<text transform="translate(866.40 1684.85) rotate(0.1) scale(1.0450 1.0000)" font-size="21.9" text-anchor="middle" stroke-width="0.9">1</text>
<text transform="translate(928.90 1684.85) rotate(0.1) scale(1.0450 1.0000)" font-size="21.9" text-anchor="middle" stroke-width="0.9">2</text>
<text transform="translate(991.40 1684.85) rotate(0.1) scale(1.0450 1.0000)" font-size="21.9" text-anchor="middle" stroke-width="0.9">3</text>
<text transform="translate(1053.90 1684.85) rotate(0.1) scale(1.0450 1.0000)" font-size="21.9" text-anchor="middle" stroke-width="0.9">4</text>
<text transform="translate(1116.40 1684.85) rotate(0.1) scale(1.0450 1.0000)" font-size="21.9" text-anchor="middle" stroke-width="0.9">5</text>
<text transform="translate(1178.90 1684.85) rotate(0.1) scale(1.0450 1.0000)" font-size="21.9" text-anchor="middle" stroke-width="0.9">6</text>
<text transform="translate(1241.40 1684.85) rotate(0.1) scale(1.0450 1.0000)" font-size="21.9" text-anchor="middle" stroke-width="0.9">7</text>
<text transform="translate(1302.80 1684.85) rotate(0.1) scale(1.0450 1.0000)" font-size="21.9" text-anchor="middle" stroke-width="0.9">8</text>
<text transform="translate(709.10 1410.00) rotate(0.1) scale(0.9850 1.0000)" font-size="28.0" text-anchor="middle" stroke-width="0.9">844.6 nm (HV <tspan dx="1.5" dy="2.2">=</tspan><tspan dy="-2.2"> </tspan>75)</text>
<text transform="translate(709.70 1708.75) rotate(0.1) scale(0.9900 1.0000)" font-size="22.6" text-anchor="middle" stroke-width="0.85">Time (UT)</text>
<text transform="translate(31.40 1538.30) rotate(-89.9) scale(0.9050 1.0000)" font-size="24.6" text-anchor="middle" stroke-width="0.85">Counts</text>
<text transform="translate(1158.50 1467.80) rotate(0.1) scale(0.9860 1.0000)" font-size="45.0" text-anchor="middle" stroke-width="1.0">844.6 nm</text>
</g>
</svg>
</body>
</html>
